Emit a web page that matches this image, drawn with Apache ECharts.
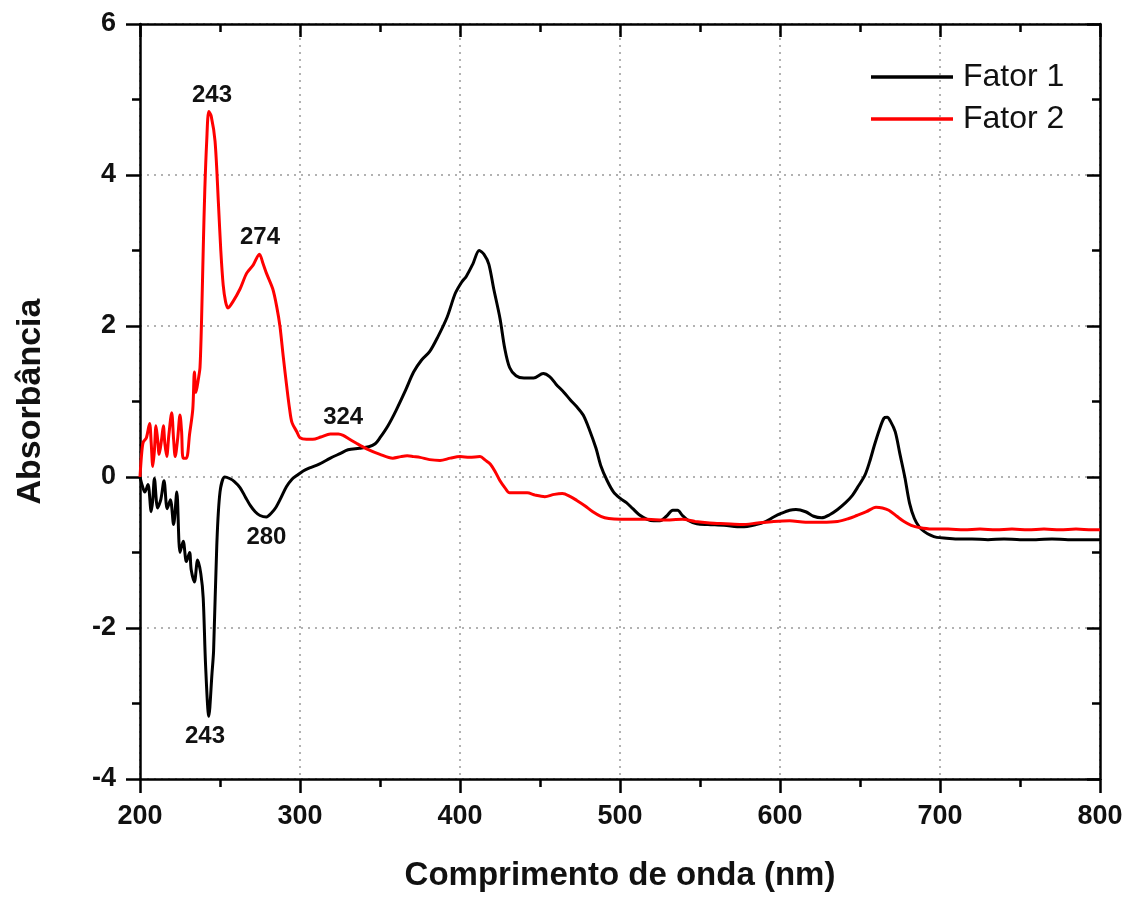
<!DOCTYPE html>
<html>
<head>
<meta charset="utf-8">
<script src="https://cdn.jsdelivr.net/npm/echarts@6/dist/echarts.min.js"></script>
<style>
html,body{margin:0;padding:0;background:#fff;}
#chart{width:1131px;height:897px;}
</style>
</head>
<body>
<div id="chart"></div>
<script>
// Fator 1 (black)
const f1X = [200,201.5,203,205,207,208,209,211,213,215,217,219,221,223,225,227,229,231,232,234,236,238,239.5,241,243,245,246,248,250,253,256,259,262.5,266,269,272,275,279,282,285,288,291.5,295,298,302,306,312,319,325,330,337,343,347,350,355,360,366,371,376,381,386,392,397,401,404,408,412,415,418,421,425,428,431,435,440,446,452,456,460,465,469,473,477,481,485,488,492,496,500,504,508,512,517,521,525,529,533,536,539,543,548,555,565,576,585,591,596,601,606,610,616,621,626,631,636,641,645,649,653,656,659,662,665,667,669,672,675,678,681,684,687,690,694,698,704,712,720,730,740,750,760,770,780,790,800];
const f1Y = [0,-0.12,-0.2,-0.1,-0.46,-0.3,-0.02,-0.41,-0.3,-0.05,-0.42,-0.3,-0.63,-0.2,-1.0,-0.85,-1.12,-1.0,-1.23,-1.39,-1.1,-1.28,-1.6,-2.5,-3.17,-2.6,-2.3,-0.9,-0.2,0,-0.02,-0.06,-0.14,-0.27,-0.38,-0.46,-0.51,-0.53,-0.48,-0.4,-0.28,-0.13,-0.03,0.02,0.08,0.12,0.17,0.25,0.31,0.36,0.38,0.40,0.44,0.52,0.68,0.88,1.15,1.39,1.55,1.66,1.85,2.12,2.43,2.58,2.66,2.82,3.0,2.95,2.82,2.5,2.1,1.7,1.45,1.34,1.31,1.31,1.37,1.33,1.23,1.12,1.02,0.93,0.82,0.62,0.38,0.15,-0.05,-0.2,-0.28,-0.34,-0.42,-0.5,-0.56,-0.58,-0.58,-0.52,-0.44,-0.44,-0.51,-0.58,-0.62,-0.63,-0.64,-0.66,-0.63,-0.59,-0.53,-0.48,-0.44,-0.43,-0.46,-0.52,-0.54,-0.5,-0.43,-0.34,-0.25,-0.12,0.02,0.2,0.42,0.62,0.78,0.79,0.74,0.6,0.3,0.0,-0.35,-0.55,-0.66,-0.72,-0.77,-0.8,-0.81,-0.82,-0.82,-0.83,-0.82,-0.83,-0.83,-0.82,-0.83,-0.83,-0.83];
// Fator 2 (red)
const f2X = [200,201,202,204,206,207,208,209,210,211,212,213.5,214.6,215.5,216.7,218,219.8,221,222,223.5,225,226,227,229,231,233,234,235,236.5,237.5,238.5,239.6,240.5,241.7,243,244.5,246.9,249,250.5,252,253.5,255,258,262.5,266.7,270.8,274.6,277,279,283,285.5,287.5,289.5,291.7,293.5,295,298,300,304,308,313,319,324,327,331,335,342,350,358,363,367,371,375,381,387.5,394,400,406,412.5,416,419,422,425,428,431,436,442,447,453,459,464,469,473,478,483,488,493,500,510,517,527,539,547,556,566,576,586,596,606,616,626,636,643,648,654,660,664,668,673,677.5,682,687,695,705,715,725,735,745,755,765,775,785,795,800];
const f2Y = [0,0.3,0.46,0.52,0.71,0.45,0.14,0.35,0.68,0.5,0.3,0.5,0.68,0.45,0.27,0.55,0.85,0.5,0.27,0.5,0.82,0.6,0.25,0.25,0.57,0.9,1.39,1.12,1.3,1.45,2.1,3.09,3.8,4.45,4.84,4.78,4.45,3.63,3.0,2.54,2.32,2.24,2.32,2.49,2.70,2.81,2.95,2.82,2.70,2.49,2.25,1.99,1.6,1.2,0.9,0.72,0.6,0.52,0.5,0.5,0.53,0.57,0.57,0.55,0.5,0.45,0.37,0.30,0.25,0.27,0.28,0.27,0.26,0.23,0.22,0.25,0.27,0.26,0.27,0.22,0.17,0.07,-0.05,-0.14,-0.21,-0.21,-0.21,-0.24,-0.26,-0.23,-0.22,-0.26,-0.31,-0.38,-0.46,-0.52,-0.55,-0.56,-0.56,-0.56,-0.57,-0.56,-0.59,-0.61,-0.62,-0.63,-0.61,-0.59,-0.58,-0.6,-0.6,-0.59,-0.55,-0.51,-0.46,-0.40,-0.41,-0.44,-0.52,-0.59,-0.64,-0.67,-0.69,-0.69,-0.70,-0.69,-0.70,-0.69,-0.70,-0.69,-0.70,-0.69,-0.70,-0.70];
// Peak annotations: [wavelength, absorbance, label]
const f1Peaks = [[240.6,-3.17,'243'],[279,-0.53,'280']];
const f2Peaks = [[245,4.84,'243'],[275,2.95,'274'],[327,0.57,'324']];
const xTicks = {min:200,max:800,interval:100};
const yTicks = {min:-4,max:6,interval:2};

const FONT = '"Liberation Sans", Arial, sans-serif';
const zip = (xs, ys) => xs.map((x,i)=>[x, ys[i]]);

const axisLine = {show:true, onZero:false, lineStyle:{color:'#000', width:2.5}};
const chart = echarts.init(document.getElementById('chart'));

function mp(peaks, pos, dist) {
  return {
    symbol:'circle', symbolSize:1, itemStyle:{color:'rgba(0,0,0,0)'},
    label:{show:true, position:pos, distance:dist, color:'#111', fontFamily:FONT, fontWeight:'bold', fontSize:24,
      formatter:p=>p.name},
    data: peaks.map(p=>({coord:[p[0],p[1]], name:p[2]}))
  };
}

chart.setOption({
  animation:false,
  backgroundColor:'#fff',
  grid:{left:140, right:31, top:24, bottom:115, containLabel:false},
  legend:{
    orient:'vertical', left:866, top:56, itemWidth:82, itemHeight:32, itemGap:10,
    icon:'path://M0,0 H100 V4 H0 Z',
    textStyle:{fontFamily:FONT, fontSize:32, color:'#111', padding:[0,0,0,5]},
    data:['Fator 1','Fator 2']
  },
  xAxis:[{
    type:'value', position:'bottom', min:xTicks.min, max:xTicks.max, interval:xTicks.interval,
    axisLine:axisLine,
    axisTick:{show:true, inside:false, length:14, lineStyle:{color:'#000', width:2.5}},
    minorTick:{show:true, splitNumber:2, length:8, lineStyle:{color:'#000', width:2.5}},
    axisLabel:{margin:24, color:'#111', fontFamily:FONT, fontWeight:'bold', fontSize:27},
    splitLine:{show:true, lineStyle:{color:'#999', width:1.5, type:[2,5]}},
    name:'Comprimento de onda (nm)', nameLocation:'middle', nameGap:80,
    nameTextStyle:{color:'#111', fontFamily:FONT, fontWeight:'bold', fontSize:33}
  },{
    type:'value', position:'top', min:xTicks.min, max:xTicks.max, interval:xTicks.interval,
    axisLine:axisLine,
    axisTick:{show:true, inside:true, length:13, lineStyle:{color:'#000', width:2.5}},
    minorTick:{show:true, splitNumber:2, length:8, lineStyle:{color:'#000', width:2.5}},
    axisLabel:{show:false}, splitLine:{show:false}
  }],
  yAxis:[{
    type:'value', position:'left', min:yTicks.min, max:yTicks.max, interval:yTicks.interval,
    axisLine:axisLine,
    axisTick:{show:true, inside:false, length:14, lineStyle:{color:'#000', width:2.5}},
    minorTick:{show:true, splitNumber:2, length:8, lineStyle:{color:'#000', width:2.5}},
    axisLabel:{margin:24, color:'#111', fontFamily:FONT, fontWeight:'bold', fontSize:27},
    splitLine:{show:true, lineStyle:{color:'#999', width:1.5, type:[2,5]}},
    name:'Absorbância', nameLocation:'middle', nameGap:92, nameRotate:90,
    nameTextStyle:{color:'#111', fontFamily:FONT, fontWeight:'bold', fontSize:34}
  },{
    type:'value', position:'right', min:yTicks.min, max:yTicks.max, interval:yTicks.interval,
    axisLine:axisLine,
    axisTick:{show:true, inside:true, length:13, lineStyle:{color:'#000', width:2.5}},
    minorTick:{show:true, splitNumber:2, length:8, lineStyle:{color:'#000', width:2.5}},
    axisLabel:{show:false}, splitLine:{show:false}
  }],
  series:[{
    name:'Fator 1', type:'line', xAxisIndex:0, yAxisIndex:0, showSymbol:false, symbol:'none',
    smooth:0.3, lineStyle:{color:'#000', width:3}, itemStyle:{color:'#000'},
    data:zip(f1X, f1Y), markPoint:mp(f1Peaks,'bottom',8)
  },{
    name:'Fator 2', type:'line', xAxisIndex:0, yAxisIndex:0, showSymbol:false, symbol:'none',
    smooth:0.3, lineStyle:{color:'#ff0000', width:3}, itemStyle:{color:'#ff0000'},
    data:zip(f2X, f2Y), markPoint:mp(f2Peaks,'top',4)
  }]
});
</script>
</body>
</html>
